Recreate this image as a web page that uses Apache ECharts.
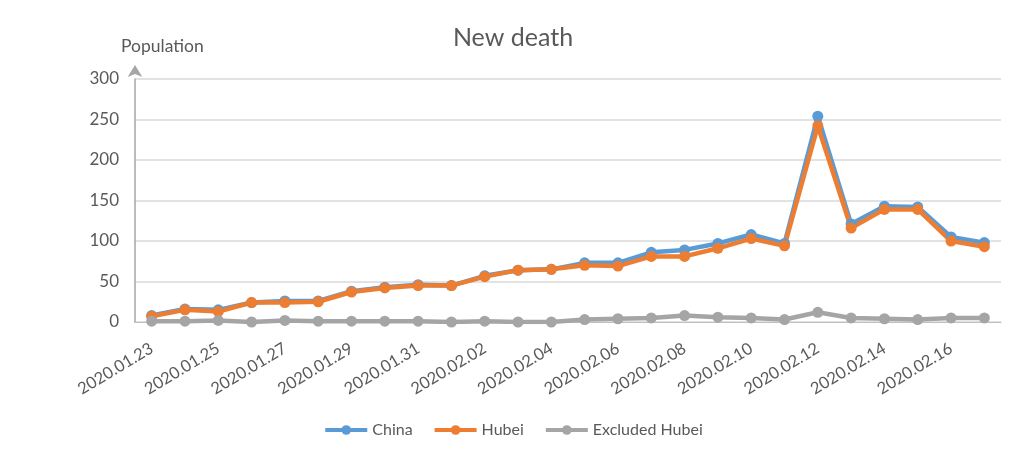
<!DOCTYPE html>
<html>
<head>
<meta charset="utf-8">
<script src="https://cdn.jsdelivr.net/npm/echarts@6/dist/echarts.min.js"></script>
<style>
    html, body { margin: 0; padding: 0; background: #fff; }
    #main { width: 1026px; height: 461px; }
</style>
</head>
<body>
<div id="main"></div>
<script>
// 日期
const dates = ['2020.01.23', '2020.01.24', '2020.01.25', '2020.01.26', '2020.01.27', '2020.01.28',
    '2020.01.29', '2020.01.30', '2020.01.31', '2020.02.01', '2020.02.02', '2020.02.03', '2020.02.04',
    '2020.02.05', '2020.02.06', '2020.02.07', '2020.02.08', '2020.02.09', '2020.02.10', '2020.02.11',
    '2020.02.12', '2020.02.13', '2020.02.14', '2020.02.15', '2020.02.16', '2020.02.17']
// 三条线的数据
const china = [8, 16, 15, 24, 26, 26, 38, 43, 46, 45, 57, 64, 65, 73, 73, 86, 89, 97, 108, 97, 254, 121, 143, 142, 105, 98]
const hubei = [7, 15, 13, 24, 24, 25, 37, 42, 45, 45, 56, 64, 65, 70, 69, 81, 81, 91, 103, 94, 242, 116, 139, 139, 100, 93]
const excluded = [1, 1, 2, 0, 2, 1, 1, 1, 1, 0, 1, 0, 0, 3, 4, 5, 8, 6, 5, 3, 12, 5, 4, 3, 5, 5]

const textColor = '#595959'
const fontFamily = 'Lato'

const myChart = echarts.init(document.getElementById('main'))

function lineSeries(name, data, color) {
    return {
        name: name,
        type: 'line',
        data: data,
        symbol: 'circle',
        symbolSize: 11,
        lineStyle: { width: 4.5, color: color },
        itemStyle: { color: color },
        animation: false
    }
}

const option = {
    textStyle: { fontFamily: fontFamily },
    title: {
        text: 'New death',
        left: 'center',
        top: 20,
        textStyle: { fontSize: 25, fontWeight: 'normal', color: textColor, fontFamily: fontFamily }
    },
    legend: {
        bottom: 18,
        left: 'center',
        itemWidth: 42,
        itemHeight: 12,
        itemGap: 20,
        lineStyle: { width: 4 },
        textStyle: { fontSize: 16, color: textColor, fontFamily: fontFamily }
    },
    grid: {
        left: 135,
        right: 25,
        top: 79,
        bottom: 139
    },
    xAxis: {
        type: 'category',
        data: dates,
        boundaryGap: true,
        axisLine: { lineStyle: { color: '#bfbfbf' } },
        axisTick: { show: false },
        axisLabel: {
            interval: 1,
            rotate: 31,
            fontSize: 16.5,
            color: textColor,
            margin: 25,
            fontFamily: fontFamily
        }
    },
    yAxis: {
        type: 'value',
        min: 0,
        max: 300,
        interval: 50,
        name: 'Population',
        nameLocation: 'end',
        nameGap: 24,
        nameTextStyle: { fontSize: 17.5, color: textColor, align: 'left', padding: [0, 0, 0, -14], fontFamily: fontFamily },
        axisLine: {
            show: true,
            lineStyle: { color: '#a6a6a6', width: 1.5 },
            symbol: ['none', 'arrow'],
            symbolSize: [11, 12],
            symbolOffset: [0, 14]
        },
        axisTick: { show: false },
        axisLabel: { fontSize: 17, color: textColor, margin: 16, fontFamily: fontFamily },
        splitLine: { lineStyle: { color: '#d9d9d9', width: 1.5 } }
    },
    series: [
        lineSeries('China', china, '#5B9BD5'),
        lineSeries('Hubei', hubei, '#ED7D31'),
        lineSeries('Excluded Hubei', excluded, '#A5A5A5')
    ]
}

myChart.setOption(option)
</script>
</body>
</html>
